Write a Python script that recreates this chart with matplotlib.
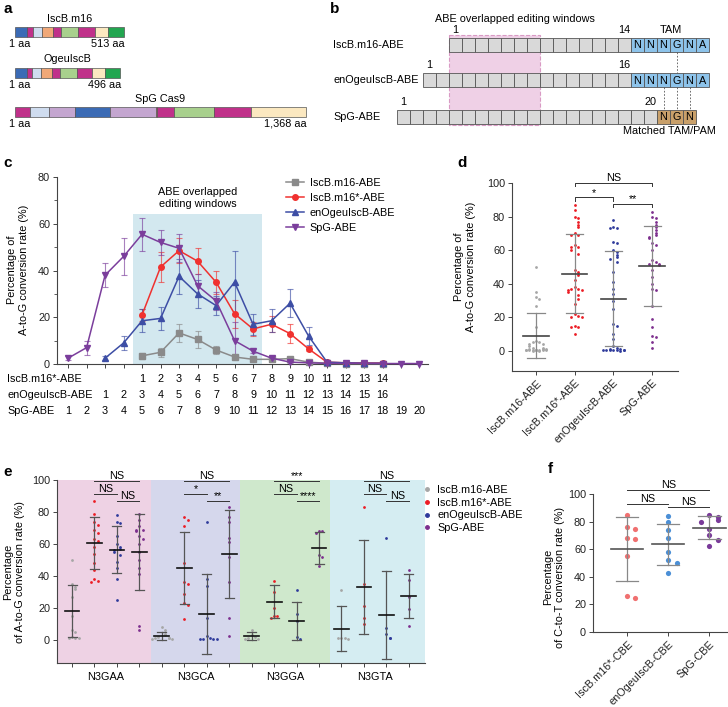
# %%
import numpy as np
import matplotlib
matplotlib.use('Agg')
import matplotlib.pyplot as plt
from matplotlib.patches import Rectangle
from matplotlib.lines import Line2D

plt.rcParams['font.family'] = ['Liberation Sans', 'DejaVu Sans']
plt.rcParams['font.size'] = 7.8
plt.rcParams['axes.linewidth'] = 0.8
plt.rcParams['axes.edgecolor'] = '#444444'
plt.rcParams['xtick.color'] = '#444444'
plt.rcParams['ytick.color'] = '#444444'
plt.rcParams['xtick.labelcolor'] = '#222222'
plt.rcParams['ytick.labelcolor'] = '#222222'

# ---------------- data ----------------
# panel a: protein domain maps (aa boundaries)
proteins = ['IscB.m16', 'OgeuIscB', 'SpG Cas9']
protein_len = [513, 496, 1368]
domain_bounds = [
    [0, 55, 83, 126, 180, 216, 298, 377, 436, 513],
    [0, 55, 81, 122, 175, 211, 290, 363, 422, 496],
    [0, 71, 162, 283, 445, 662, 668, 747, 935, 1109, 1368],
]
domain_colors = [
    ['#3b6bb5', '#c0318a', '#cfdcef', '#f0a878', '#c0318a', '#a8d08d', '#c0318a', '#fbe8c0', '#22a650'],
    ['#3b6bb5', '#c0318a', '#cfdcef', '#f0a878', '#c0318a', '#a8d08d', '#c0318a', '#fbe8c0', '#22a650'],
    ['#c0318a', '#cfdcef', '#c4a6d0', '#3b6bb5', '#c4a6d0', '#f0a878', '#c0318a', '#a8d08d', '#c0318a', '#fbe8c0'],
]

# panel b: editing windows
b_rows = ['IscB.m16-ABE', 'enOgeuIscB-ABE', 'SpG-ABE']
b_spacer = [14, 16, 20]
b_motif = ['NNNGNA', 'NNNGNA', 'NGN']
b_window = 7

# panel c: A-to-G conversion by position (SpG numbering)
spg_pos = np.arange(1, 21)
c_names = ['IscB.m16-ABE', 'IscB.m16*-ABE', 'enOgeuIscB-ABE', 'SpG-ABE']
c_start = [5, 5, 3, 1]
c_gray = [3.5, 5, 13.3, 10.5, 6, 3, 2, 2, 2.3, 0.8, 0.3, 0.2, 0.2, 0.2]
c_gray_err = [1.2, 2, 4, 3.5, 1.8, 1, 0.7, 1, 0.7, 0.4, 0.2, 0.1, 0.1, 0.1]
c_red = [21, 41.5, 48.5, 44, 35, 21.5, 15, 17, 13, 6.5, 0.8, 0.5, 0.4, 0.4]
c_red_err = [2.5, 6.5, 5.5, 5.5, 5, 6, 3, 3.5, 4, 1, 0.3, 0.2, 0.2, 0.2]
c_blue = [2.5, 9, 18.5, 19.5, 37.5, 30, 25, 35, 17, 18.5, 26, 12, 0.8, 0.5, 0.3, 0.3]
c_blue_err = [0.8, 3, 5, 5, 7.5, 6, 4, 13.5, 4.5, 5, 6, 4, 0.3, 0.2, 0.1, 0.1]
c_purple = [2.5, 7, 38, 46, 55.5, 52, 49.5, 33.5, 27, 10, 5.5, 2.5, 0.8, 0.5, 0.3, 0.3, 0.3, 0.2, 0.2, 0.2]
c_purple_err = [1, 3, 5, 8, 7, 5.5, 6, 5, 4, 8, 1, 0.6, 0.3, 0.2, 0.1, 0.1, 0.1, 0.1, 0.1, 0.1]
c_row_names = ['IscB.m16*-ABE', 'enOgeuIscB-ABE', 'SpG-ABE']
c_row_start = [5, 3, 1]
c_row_count = [14, 16, 20]

# panel d: per-site conversion
d_names = ['IscB.m16-ABE', 'IscB.m16*-ABE', 'enOgeuIscB-ABE', 'SpG-ABE']
d_vals = [
    [50, 35, 32, 31, 27, 14, 6, 5, 5, 4, 4, 3, 2, 1.5, 1, 1, 1, 0.8, 0.8, 0.5, 0.5, 0.5, 0.5, 0.5, 0.3, 0.3, 0.3, 0.2, 0.2],
    [87, 84, 80, 79, 77, 75, 74, 70, 69, 69, 63, 62, 62, 60, 58, 48, 47, 45, 42, 38, 37, 37, 36, 36, 35, 33, 31, 28, 22, 21, 20, 20, 15, 14, 14, 10],
    [78, 74, 73, 73, 65, 64, 60, 59, 57, 56, 55, 53, 47, 41, 37, 34, 30, 25, 16, 15, 10, 7, 3, 1.5, 1, 1, 0.8, 0.8, 0.5, 0.5, 0.5, 0.3, 0.3, 0.2],
    [83, 80, 79, 77, 75, 74, 72, 70, 69, 68, 67, 64, 63, 60, 54, 53, 52, 52, 51, 48, 44, 40, 37, 36, 27, 19, 14, 9, 8, 5, 2],
]
d_mean = [9, 46, 31, 50.5]
d_sd = [13.5, 23.5, 28.3, 23.8]

# panel e: by TAM
e_groups = ['N3GAA', 'N3GCA', 'N3GGA', 'N3GTA']
e_vals = [
    [[50, 35, 33, 32, 27, 15, 6, 5, 2, 1.5, 1, 1],
     [87, 79, 74, 72, 69, 67, 63, 62, 58, 54, 48, 44, 38, 37, 36],
     [78, 74, 73, 65, 60, 58, 57, 56, 55, 53, 49, 45, 38, 25],
     [79, 75, 71, 69, 69, 68, 65, 63, 60, 55, 50, 45, 41, 9, 6]],
    [[8, 6, 4, 3, 2, 1.5, 1, 1, 0.5, 0.5],
     [77, 75, 71, 48, 36, 35, 29, 23, 22, 13],
     [74, 38, 34, 14, 2.5, 1, 0.8, 0.6, 0.5, 0.3],
     [83, 77, 74, 64, 61, 52, 36, 14, 2.5]],
    [[6, 3, 2, 1, 0.8, 0.5],
     [37, 30, 20, 15, 15, 14],
     [31, 16, 12, 2, 0.5],
     [68, 68, 67, 53, 52, 46]],
    [[31, 1.5, 1, 1, 0.5],
     [83, 35, 21, 14, 10],
     [64, 7.5, 4, 1.5, 1],
     [44, 37.5, 27, 19.5, 9]],
]
e_mean = [[18, 60.5, 56.5, 55], [2.5, 45, 16.5, 53.5], [2.5, 24, 12, 57.5], [7, 33, 15.5, 27.5]]
e_sd = [[16.3, 16.2, 14.7, 23.5], [2.7, 22.5, 25, 27.5], [2.3, 10.5, 12, 10], [14, 29.5, 27.5, 14]]
e_sig = [['NS', 'NS', 'NS'], ['NS', '*', '**'], ['***', 'NS', '****'], ['NS', 'NS', 'NS']]

# panel f: CBE
f_names = ['IscB.m16*-CBE', 'enOgeuIscB-CBE', 'SpG-CBE']
f_vals = [
    [85, 76, 75, 68, 67.5, 55, 26, 25],
    [84, 80, 74, 68, 58, 52, 50, 43],
    [85, 83, 81, 80, 75, 70, 67, 62],
]
f_mean = [60, 63.5, 75.5]
f_sd = [23, 15, 8.3]

# ---------------- layout helpers ----------------
W, H = 728, 707
fig = plt.figure(figsize=(W / 100, H / 100), dpi=100)


def px_axes(x0, y0, x1, y1):
    return fig.add_axes([x0 / W, 1 - y1 / H, (x1 - x0) / W, (y1 - y0) / H])


def swarm(vals, dy, dx, wrap=7):
    # simple deterministic beeswarm: neighbours within dy are pushed sideways
    offs, placed = [], []
    for v in vals:
        k = sum(1 for p in placed if abs(p - v) < dy) % wrap
        sign = 1 if k % 2 else -1
        offs.append(((k + 1) // 2) * dx * sign)
        placed.append(v)
    return np.array(offs)


def mean_sd(ax, x, m, s, cap, half, c_sd, c_mean, lw=0.9):
    ax.plot([x, x], [m - s, m + s], color=c_sd, lw=lw, zorder=4, clip_on=False)
    ax.plot([x - cap, x + cap], [m - s, m - s], color=c_sd, lw=lw, zorder=4, clip_on=False)
    ax.plot([x - cap, x + cap], [m + s, m + s], color=c_sd, lw=lw, zorder=4, clip_on=False)
    ax.plot([x - half, x + half], [m, m], color=c_mean, lw=1.2, zorder=5, clip_on=False)


def bracket(ax, x1, x2, y, label, pad, drop=0.0):
    ax.plot([x1, x1, x2, x2], [y - drop, y, y, y - drop], color='#333333', lw=0.7, clip_on=False)
    ax.text((x1 + x2) / 2, y + pad, label, ha='center', va='baseline', clip_on=False)


def style(ax):
    for s in ['top', 'right']:
        ax.spines[s].set_visible(False)
    ax.tick_params(length=3, width=0.7, pad=2)


ax0 = fig.add_axes([0, 0, 1, 1])
ax0.set_xlim(0, W)
ax0.set_ylim(H, 0)
ax0.axis('off')

# panel letters
for lab, (x, y) in zip('abcdef', [(3, 9), (330, 9), (3, 163), (457, 163), (3, 472), (548, 469)]):
    ax0.text(x, y, lab, fontsize=11, fontweight='bold', va='center')

# ---------------- panel a ----------------
scale = 0.2125
bar_top = [27, 68, 107]
title_y = [19, 59, 99]
for i, name in enumerate(proteins):
    b = domain_bounds[i]
    for k in range(len(b) - 1):
        ax0.add_patch(Rectangle((15 + b[k] * scale, bar_top[i]), (b[k + 1] - b[k]) * scale, 10,
                                facecolor=domain_colors[i][k], edgecolor='#555555', lw=0.5))
    end = 15 + protein_len[i] * scale
    ax0.text((15 + end) / 2, title_y[i], name, ha='center', va='center')
    ax0.text(9, bar_top[i] + 17, '1 aa', ha='left', va='center')
    ax0.text(end + 1, bar_top[i] + 17, f'{protein_len[i]:,} aa', ha='right', va='center')

# ---------------- panel b ----------------
bw, bh = 13, 14
g_left = 670
row_top = [38, 73, 110]
row_x0 = [g_left - bw * (sp + m.index('G')) for sp, m in zip(b_spacer, b_motif)]
ax0.add_patch(Rectangle((row_x0[0], 35), b_window * bw, 90, facecolor='#efd0e6',
                        edgecolor='#d99ac4', lw=0.8, ls='--', zorder=0))
ax0.text(435, 19, 'ABE overlapped editing windows', ha='left', va='center')
for i, name in enumerate(b_rows):
    x0, y0 = row_x0[i], row_top[i]
    ax0.text(333, y0 + bh / 2, name, ha='left', va='center')
    for k in range(b_spacer[i]):
        ax0.add_patch(Rectangle((x0 + k * bw, y0), bw, bh, facecolor='#d9d9d9', edgecolor='#555555', lw=0.6, zorder=2))
    mcol = '#c9a06a' if i == 2 else '#8dc3ea'
    for k, ch in enumerate(b_motif[i]):
        xx = x0 + (b_spacer[i] + k) * bw
        ax0.add_patch(Rectangle((xx, y0), bw, bh, facecolor=mcol, edgecolor='#555555', lw=0.6, zorder=2))
        ax0.text(xx + bw / 2, y0 + bh / 2 + 0.5, ch, ha='center', va='center', zorder=3)
    ax0.text(x0 + bw / 2, y0 - 8, '1', ha='center', va='center')
    ax0.text(x0 + (b_spacer[i] - 0.5) * bw, y0 - 8, str(b_spacer[i]), ha='center', va='center')
ax0.text(g_left + 1, 30, 'TAM', ha='center', va='center')
ax0.plot([g_left + bw / 2] * 2, [row_top[0] + bh, row_top[1]], color='#555555', lw=0.6, ls=(0, (2, 2)))
for k in range(-1, 2):
    xx = g_left + bw / 2 + k * bw
    ax0.plot([xx, xx], [row_top[1] + bh, row_top[2]], color='#555555', lw=0.6, ls=(0, (2, 2)))
ax0.text(623, 131, 'Matched TAM/PAM', ha='left', va='center')

# ---------------- panel c ----------------
axc = px_axes(57, 177, 428, 364)
style(axc)
axc.axvspan(4.5, 11.5, ymax=64 / 80, color='#d3e8ef', lw=0, zorder=0)
axc.text(8.0, 71, 'ABE overlapped\nediting windows', ha='center', va='center', linespacing=1.3)
c_data = [(c_gray, c_gray_err, '#8a8a8a', 's'), (c_red, c_red_err, '#f0312f', 'o'),
          (c_blue, c_blue_err, '#3d4ea5', '^'), (c_purple, c_purple_err, '#7b3e9c', 'v')]
handles = []
for (vals, err, col, mk), st, name in zip(c_data, c_start, c_names):
    x = st + np.arange(len(vals))
    axc.errorbar(x, vals, yerr=err, fmt='none', ecolor=col, elinewidth=0.8, capsize=2.5,
                 capthick=0.8, alpha=0.65, zorder=3, clip_on=False)
    axc.plot(x, vals, color=col, marker=mk, ms=4, lw=1.1, zorder=4, clip_on=False)
    handles.append(Line2D([], [], color=col, marker=mk, ms=4, lw=1.1, label=name))
axc.set_xlim(0.4, 20.46)
axc.set_ylim(0, 80)
axc.set_yticks([0, 20, 40, 60, 80])
axc.set_yticks([10, 30, 50, 70], minor=True)
axc.tick_params(axis='y', which='minor', length=2, width=0.6)
axc.set_xticks(spg_pos)
axc.set_xticklabels([])
axc.legend(handles=handles, loc='upper left', bbox_to_anchor=(286 / W, 1 - 178 / H),
           bbox_transform=fig.transFigure, frameon=False, handlelength=1.7, handletextpad=0.5,
           labelspacing=0.45, borderpad=0, borderaxespad=0)
row_y = [-0.08, -0.166, -0.251]
for name, st, n, yy in zip(c_row_names, c_row_start, c_row_count, row_y):
    axc.text(-2.3, yy, name, transform=axc.get_xaxis_transform(), ha='left', va='center')
    for k in range(n):
        axc.text(st + k, yy, str(k + 1), transform=axc.get_xaxis_transform(), ha='center', va='center')
ax0.text(18, 270, 'Percentage of\nA-to-G conversion rate (%)', rotation=90, ha='center', va='center',
         multialignment='center', linespacing=1.25)

# ---------------- panel d ----------------
axd = px_axes(512, 183, 678, 371)
style(axd)
d_cols = ['#a6a6a6', '#ec1c24', '#2e3a9b', '#7d2f8e']
for i, vals in enumerate(d_vals):
    v = np.array(vals)
    axd.scatter(i + swarm(v, 2.5, 0.09), v, s=4, color=d_cols[i], lw=0, zorder=3)
    mean_sd(axd, i, d_mean[i], d_sd[i], 0.22, 0.33, '#888888', '#444444')
axd.set_xlim(-0.62, 3.67)
axd.set_ylim(-12, 100)
axd.set_yticks([0, 20, 40, 60, 80, 100])
axd.set_xticks(range(4))
axd.set_xticklabels(d_names, rotation=45, ha='right', rotation_mode='anchor')
bracket(axd, 1, 3, 100, 'NS', 1.2, drop=2)
bracket(axd, 1, 2, 91.5, '*', 1.0, drop=2)
bracket(axd, 2, 3, 87.5, '**', 1.0, drop=2)
ax0.text(465, 267, 'Percentage of\nA-to-G conversion rate (%)', rotation=90, ha='center', va='center',
         multialignment='center', linespacing=1.25)

# ---------------- panel e ----------------
axe = px_axes(57, 480, 425, 663)
style(axe)
e_bg = ['#eed2e4', '#d5d7ec', '#cfe8cc', '#d5edf2']
bounds = [-0.67, 3.5, 7.5, 11.5, 15.72]
for g in range(4):
    axe.axvspan(bounds[g], bounds[g + 1], color=e_bg[g], lw=0, zorder=0)
    for s in range(4):
        x = g * 4 + s
        v = np.array(e_vals[g][s])
        axe.scatter(x + swarm(v, 3.0, 0.15), v, s=4, color=d_cols[s], lw=0, zorder=3)
        mean_sd(axe, x, e_mean[g][s], e_sd[g][s], 0.2, 0.33, '#555555', '#111111')
    bracket(axe, g * 4 + 1, g * 4 + 3, 99.6, e_sig[g][0], 1.0)
    bracket(axe, g * 4 + 1, g * 4 + 2, 91.2, e_sig[g][1], 1.0)
    bracket(axe, g * 4 + 2, g * 4 + 3, 87, e_sig[g][2], 1.0)
    axe.text(g * 4 + 1.5, -0.077, e_groups[g], transform=axe.get_xaxis_transform(), ha='center', va='center')
axe.set_xlim(-0.67, 15.72)
axe.set_ylim(-14.4, 100)
axe.set_yticks([0, 20, 40, 60, 80, 100])
axe.set_xticks(range(16))
axe.set_xticklabels([])
e_handles = [Line2D([], [], ls='none', marker='o', ms=2.5, color=c, label=n) for c, n in zip(d_cols, d_names)]
axe.legend(handles=e_handles, loc='upper left', bbox_to_anchor=(423 / W, 1 - 485 / H),
           bbox_transform=fig.transFigure, frameon=False, handlelength=0.8, handletextpad=0.5,
           labelspacing=0.25, borderpad=0, borderaxespad=0)
ax0.text(14, 572, 'Percentage\nof A-to-G conversion rate (%)', rotation=90, ha='center', va='center',
         multialignment='center', linespacing=1.25)

# ---------------- panel f ----------------
axf = px_axes(593, 494, 728, 632)
style(axf)
f_cols = ['#f07070', '#4b8fd6', '#7a3a9a']
for i, vals in enumerate(f_vals):
    v = np.array(vals)
    axf.scatter(i + swarm(v, 4.0, 0.2), v, s=14, color=f_cols[i], lw=0, zorder=3)
    mean_sd(axf, i, f_mean[i], f_sd[i], 0.27, 0.39, '#888888', '#555555')
axf.set_xlim(-0.83, 2.45)
axf.set_ylim(0, 100)
axf.set_yticks([0, 20, 40, 60, 80, 100])
axf.set_xticks(range(3))
axf.set_xticklabels(f_names, rotation=45, ha='right', rotation_mode='anchor')
bracket(axf, 0, 2, 103, 'NS', 1.5)
bracket(axf, 0, 1, 92.8, 'NS', 1.5)
bracket(axf, 1, 2, 90.6, 'NS', 1.5)
ax0.text(554, 577, 'Percentage\nof C-to-T conversion rate (%)', rotation=90, ha='center', va='center',
         multialignment='center', linespacing=1.25)

fig.savefig('out.png', dpi=100)
